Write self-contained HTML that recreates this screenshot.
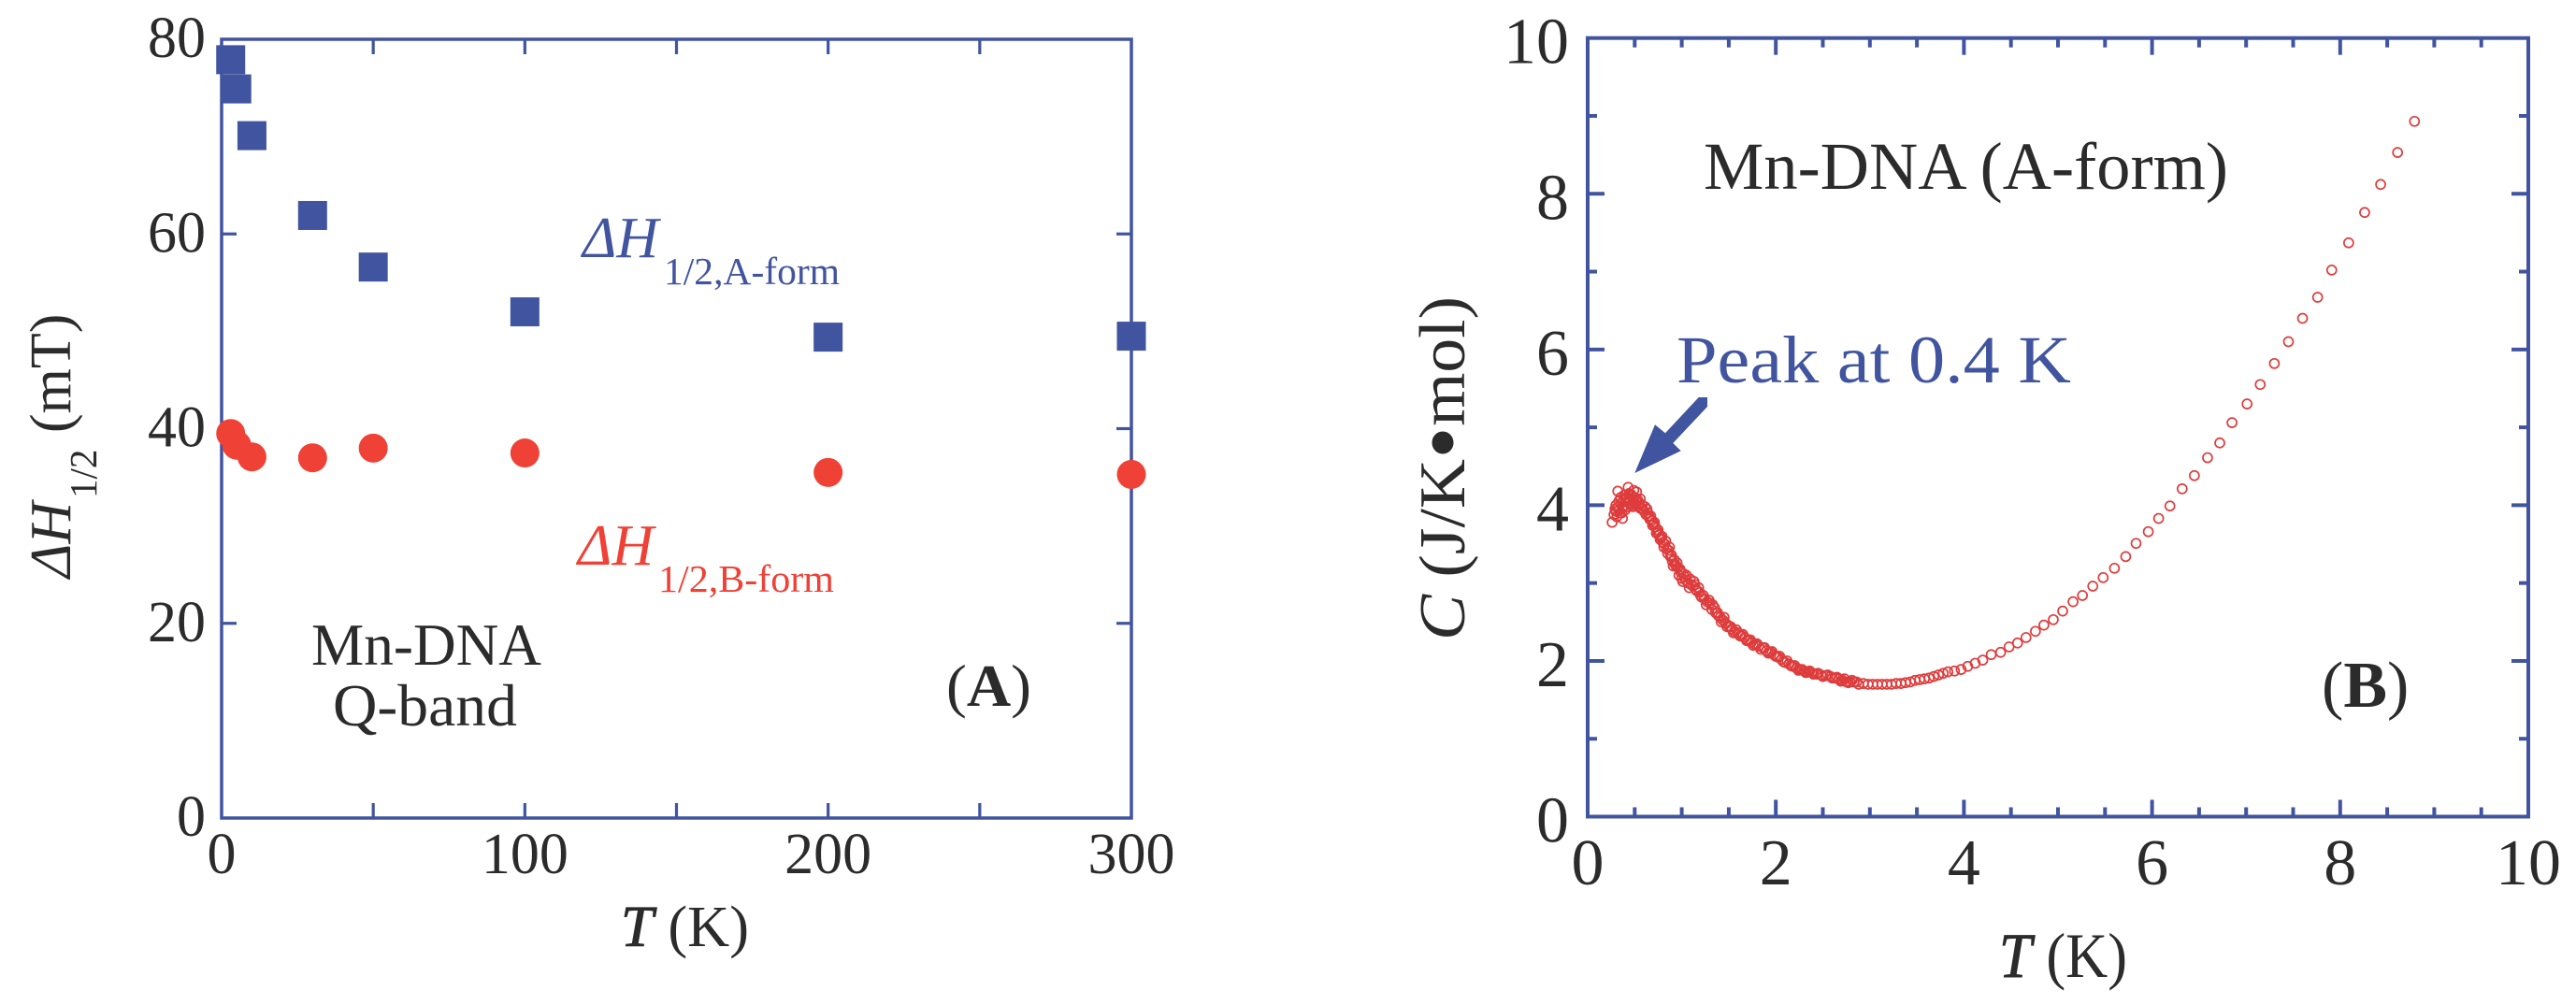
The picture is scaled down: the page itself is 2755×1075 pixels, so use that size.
<!DOCTYPE html>
<html lang="en">
<head>
<meta charset="utf-8">
<title>Mn-DNA linewidth and heat capacity</title>
<style>
html,body{margin:0;padding:0;background:#fff;width:2755px;height:1075px;overflow:hidden}
svg{display:block}
text{font-family:"Liberation Serif","DejaVu Serif",serif;fill:#2b2b2b}
.blue{fill:#41549f}
.red{fill:#ef4136}
</style>
</head>
<body>
<svg id="figure" xmlns="http://www.w3.org/2000/svg" width="2755" height="1075" viewBox="0 0 2755 1075">
  <rect width="2755" height="1075" fill="#fff"/>
  <g id="panelA"></g>
  <g id="panelB"></g>

  <!-- Panel A labels -->
  <text x="664" y="1012" font-size="62" textLength="137" lengthAdjust="spacingAndGlyphs"><tspan font-style="italic" stroke="#2b2b2b" stroke-width="1">T</tspan> (K)</text>
  <g>
    <text transform="translate(75 618) rotate(-90)" font-size="62" font-style="italic">ΔH</text>
    <text transform="translate(103 533) rotate(-90)" font-size="41">1/2</text>
    <text transform="translate(75 463) rotate(-90)" font-size="62">(mT)</text>
  </g>
  <g>
    <text class="blue" x="623" y="275" font-size="62" font-style="italic">ΔH</text>
    <text class="blue" x="710" y="304" font-size="41" textLength="188" lengthAdjust="spacingAndGlyphs">1/2,A-form</text>
  </g>
  <g>
    <text class="red" x="618" y="604" font-size="62" font-style="italic">ΔH</text>
    <text class="red" x="704" y="633" font-size="41" textLength="188" lengthAdjust="spacingAndGlyphs">1/2,B-form</text>
  </g>
  <text x="333" y="711" font-size="63" textLength="246" lengthAdjust="spacingAndGlyphs">Mn-DNA</text>
  <text x="356" y="776" font-size="63" textLength="197" lengthAdjust="spacingAndGlyphs">Q-band</text>
  <text x="1012" y="755" font-size="63" textLength="91" lengthAdjust="spacingAndGlyphs">(<tspan font-weight="bold">A</tspan>)</text>

  <!-- Panel B labels -->
  <text x="2138" y="1045" font-size="68" textLength="137" lengthAdjust="spacingAndGlyphs"><tspan font-style="italic" stroke="#2b2b2b" stroke-width="1">T</tspan> (K)</text>
  <text transform="translate(1566 685) rotate(-90)" font-size="70" textLength="368" lengthAdjust="spacingAndGlyphs"><tspan font-style="italic">C</tspan> (J/K<tspan font-size="96" dy="9">•</tspan><tspan dy="-9">mol)</tspan></text>
  <text x="1822" y="202" font-size="72" textLength="561" lengthAdjust="spacingAndGlyphs">Mn-DNA (A-form)</text>
  <text class="blue" x="1793" y="409" font-size="72" textLength="422" lengthAdjust="spacingAndGlyphs">Peak at 0.4 K</text>
  <polygon fill="#41549f" points="1748.3,506 1770,454.3 1781,463.3 1816.7,425 1826,425 1826,435 1789.3,474 1797.7,482.3"/>
  <text x="2483" y="756" font-size="70">(<tspan font-weight="bold">B</tspan>)</text>
</svg>
<script>
// ---- Panel A data ----
const aTemps = [3, 5, 10, 30, 50, 100, 200, 300];
const aFormWidth = [77.9, 74.9, 70.1, 61.9, 56.6, 52.0, 49.4, 49.5];
const bFormWidth = [39.5, 38.3, 37.1, 37.0, 38.0, 37.5, 35.5, 35.3];
const aXTickLabels = ["0", "100", "200", "300"];
const aYTickLabels = ["0", "20", "40", "60", "80"];
const aXTickValues = [50, 100, 150, 200, 250];
const aYTickValues = [20, 40, 60];

// ---- Panel B data ----
const bXTickLabels = ["0", "2", "4", "6", "8", "10"];
const bYTickLabels = ["0", "2", "4", "6", "8", "10"];
const bXMinorValues = [0.5, 1, 1.5, 2.5, 3, 3.5, 4.5, 5, 5.5, 6.5, 7, 7.5, 8.5, 9, 9.5];
const bXMajorValues = [2, 4, 6, 8];
const bYMinorValues = [1, 3, 5, 7, 9];
const bYMajorValues = [2, 4, 6, 8];
const heatTemp = [
0.26,0.37,0.28,0.29,0.30,0.30,0.32,0.33,0.32,0.34,0.35,0.35,0.37,0.38,0.39,0.40,0.41,0.42,0.43,0.44,
0.45,0.46,0.47,0.48,0.49,0.50,0.52,0.51,0.53,0.55,0.56,0.58,0.60,0.62,0.64,0.66,0.68,0.70,0.72,0.74,
0.76,0.78,0.80,0.82,0.84,0.86,0.88,0.90,0.92,0.94,0.96,0.98,1.00,1.02,1.04,1.07,1.09,1.12,1.14,1.16,
1.19,1.21,1.24,1.27,1.30,1.33,1.36,1.39,1.41,1.44,1.47,1.50,1.53,1.56,1.60,1.63,1.67,1.71,1.74,1.78,
1.82,1.86,1.90,1.94,1.98,2.02,2.06,2.10,2.14,2.18,2.22,2.26,2.30,2.34,2.38,2.43,2.48,2.53,2.58,2.63,
2.67,2.71,2.75,2.79,2.83,2.88,2.93,2.98,3.03,3.08,3.13,3.18,3.23,3.28,3.33,3.38,3.43,3.48,3.53,3.58,
3.63,3.68,3.73,3.78,3.83,3.90,3.97,4.04,4.12,4.20,4.29,4.39,4.48,4.57,4.66,4.76,4.85,4.95,5.05,5.16,
5.26,5.37,5.48,5.60,5.72,5.83,5.96,6.07,6.19,6.32,6.45,6.59,6.72,6.85,7.01,7.15,7.30,7.45,7.60,7.76,
7.91,8.09,8.26,8.43,8.61,8.79,
0.31,0.33,0.36,0.38,0.40,0.42,0.44,0.46,0.48,0.50,
0.52,0.54,0.56,0.58,0.61,0.63,0.65,0.67,0.69,0.71,
0.73,0.75,0.77,0.79,0.81,0.83,0.85,0.87,0.89,0.91,
0.93,0.95,0.97,0.99,1.01,1.03,1.05,1.08,1.10,1.13,
1.15,1.18,1.20,1.23,1.26,1.29,1.32,1.35,1.38,1.42,
1.45,1.48,1.52,1.55,1.58,1.62,1.65,1.69,1.73,1.76,
1.80,1.84,1.88,1.92,1.96,2.00,2.04,2.08,2.12,2.16,
2.20,2.24,2.28,2.32,2.36,2.40,2.45,2.50,2.55,2.60,
2.65,2.69,2.73,2.77,2.81,2.86];
const heatCap = [
3.78,3.83,3.88,3.95,4.00,3.92,3.97,4.05,4.18,3.90,4.02,4.10,3.98,4.06,4.13,3.94,4.04,4.10,4.23,4.15,
4.08,4.00,4.12,4.05,4.19,4.10,4.17,4.00,4.07,4.03,3.96,4.00,3.92,3.88,3.90,3.82,3.80,3.76,3.72,3.66,
3.62,3.58,3.52,3.50,3.44,3.42,3.34,3.28,3.30,3.22,3.20,3.18,3.06,3.12,3.04,3.00,3.05,2.96,2.98,2.90,
2.88,2.82,2.80,2.76,2.74,2.72,2.62,2.58,2.56,2.52,2.48,2.45,2.41,2.38,2.36,2.33,2.30,2.26,2.24,2.21,
2.19,2.17,2.13,2.11,2.08,2.05,2.02,1.98,1.96,1.93,1.91,1.89,1.87,1.86,1.85,1.83,1.82,1.81,1.80,1.78,
1.77,1.75,1.73,1.73,1.73,1.70,1.71,1.70,1.70,1.70,1.70,1.70,1.70,1.71,1.71,1.72,1.73,1.75,1.76,1.77,
1.78,1.80,1.82,1.84,1.86,1.87,1.89,1.93,1.97,2.01,2.08,2.11,2.18,2.23,2.30,2.38,2.46,2.53,2.64,2.76,
2.84,2.96,3.07,3.19,3.34,3.51,3.66,3.83,3.99,4.21,4.38,4.61,4.80,5.06,5.30,5.55,5.82,6.10,6.40,6.67,
7.02,7.37,7.76,8.12,8.53,8.93,
3.85,3.93,3.90,3.98,4.08,3.98,4.03,4.14,3.98,4.03,
4.05,3.98,4.08,3.95,3.98,3.95,3.86,3.86,3.74,3.78,
3.64,3.68,3.56,3.60,3.46,3.54,3.38,3.46,3.36,3.22,
3.24,3.26,3.10,3.14,3.02,3.08,3.10,2.94,2.98,3.02,
2.92,2.94,2.84,2.84,2.72,2.78,2.66,2.68,2.62,2.50,
2.56,2.44,2.44,2.36,2.40,2.32,2.34,2.26,2.27,2.20,
2.22,2.15,2.17,2.10,2.12,2.06,2.06,1.99,2.00,1.94,
1.94,1.88,1.89,1.85,1.87,1.83,1.84,1.80,1.82,1.78,
1.79,1.74,1.77,1.72,1.75,1.73];

// ---- Axis functions ----
const ax = t => 237 + t * 973 / 300;
const ay = h => 875 - h * 833 / 80;
const bx = t => 1698 + t * 100.6;
const by = c => 873.5 - c * 83.28;

const NS = 'http://www.w3.org/2000/svg';
const panelA = document.getElementById('panelA');
const panelB = document.getElementById('panelB');
const AXIS = '#41549f';

function line(parent, x1, y1, x2, y2, width) {
  const el = document.createElementNS(NS, 'line');
  el.setAttribute('x1', x1);
  el.setAttribute('y1', y1);
  el.setAttribute('x2', x2);
  el.setAttribute('y2', y2);
  el.setAttribute('stroke', AXIS);
  el.setAttribute('stroke-width', width);
  
  
  parent.appendChild(el);
}
function label(parent, str, x, y, size, anchor) {
  const el = document.createElementNS(NS, 'text');
  el.textContent = str;
  el.setAttribute('x', x);
  el.setAttribute('y', y);
  el.setAttribute('font-size', size);
  el.setAttribute('text-anchor', anchor);
  
  
  parent.appendChild(el);
}
function frame(parent, x0, y0, x1, y1, width) {
  const el = document.createElementNS(NS, 'rect');
  el.setAttribute('x', x0);
  el.setAttribute('y', y0);
  el.setAttribute('width', x1 - x0);
  el.setAttribute('height', y1 - y0);
  el.setAttribute('fill', 'none');
  el.setAttribute('stroke', AXIS);
  el.setAttribute('stroke-width', width);
  
  
  parent.appendChild(el);
}

// ---- Panel A ----
frame(panelA, ax(0), ay(80), ax(300), ay(0), 3.5);
aXTickValues.forEach(v => {
  line(panelA, ax(v), ay(0), ax(v), ay(0) - 16, 3.2);
  line(panelA, ax(v), ay(80), ax(v), ay(80) + 16, 3.2);
});
aYTickValues.forEach(v => {
  line(panelA, ax(0), ay(v), ax(0) + 16, ay(v), 3.2);
  line(panelA, ax(300), ay(v), ax(300) - 16, ay(v), 3.2);
});
aXTickLabels.forEach(s => label(panelA, s, ax(Number(s)), 934, 62, 'middle'));
aYTickLabels.forEach(s => label(panelA, s, 220, ay(Number(s)) + 19, 62, 'end'));

aTemps.forEach((t, i) => {
  const sq = document.createElementNS(NS, 'rect');
  sq.setAttribute('x', ax(t) - 15.5);
  sq.setAttribute('y', ay(aFormWidth[i]) - 15.5);
  sq.setAttribute('width', 31);
  sq.setAttribute('height', 31);
  sq.setAttribute('fill', '#41549f');
  
  
  panelA.appendChild(sq);
});
aTemps.forEach((t, i) => {
  const c = document.createElementNS(NS, 'circle');
  c.setAttribute('cx', ax(t));
  c.setAttribute('cy', ay(bFormWidth[i]));
  c.setAttribute('r', 15.5);
  c.setAttribute('fill', '#ef4136');
  
  
  panelA.appendChild(c);
});

// ---- Panel B ----
frame(panelB, bx(0), by(10), bx(10), by(0), 4);
bXMinorValues.forEach(v => {
  line(panelB, bx(v), by(0), bx(v), by(0) - 10, 4);
  line(panelB, bx(v), by(10), bx(v), by(10) + 10, 4);
});
bXMajorValues.forEach(v => {
  line(panelB, bx(v), by(0), bx(v), by(0) - 18, 4);
  line(panelB, bx(v), by(10), bx(v), by(10) + 18, 4);
});
bYMinorValues.forEach(v => {
  line(panelB, bx(0), by(v), bx(0) + 10, by(v), 4);
  line(panelB, bx(10), by(v), bx(10) - 10, by(v), 4);
});
bYMajorValues.forEach(v => {
  line(panelB, bx(0), by(v), bx(0) + 18, by(v), 4);
  line(panelB, bx(10), by(v), bx(10) - 18, by(v), 4);
});
bXTickLabels.forEach(s => label(panelB, s, bx(Number(s)), 946, 70, 'middle'));
bYTickLabels.forEach(s => label(panelB, s, 1678, by(Number(s)) + 27, 70, 'end'));

heatTemp.forEach((t, i) => {
  const p = document.createElementNS(NS, 'circle');
  p.setAttribute('cx', bx(t));
  p.setAttribute('cy', by(heatCap[i]));
  p.setAttribute('r', 5);
  p.setAttribute('fill', 'none');
  p.setAttribute('stroke', '#de3c3c');
  p.setAttribute('stroke-width', 1.7);
  
  
  panelB.appendChild(p);
});
</script>
</body>
</html>
